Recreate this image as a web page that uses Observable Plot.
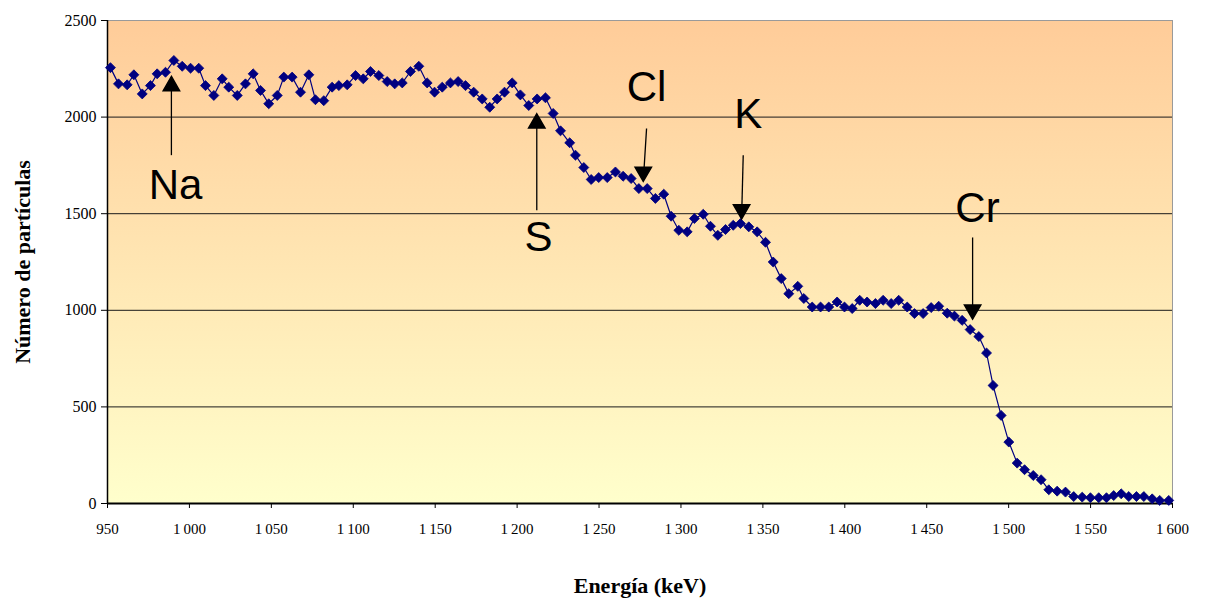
<!DOCTYPE html>
<html>
<head>
<meta charset="utf-8">
<script src="https://cdn.jsdelivr.net/npm/d3@7"></script>
<script src="https://cdn.jsdelivr.net/npm/@observablehq/plot@0.6"></script>
<style>
  html, body { margin: 0; padding: 0; background: #ffffff; }
  #chart { width: 1206px; height: 602px; }
</style>
</head>
<body>
<div id="chart"></div>
<script>
// Spectrum: energy (keV) and particle counts
const energy = [
  951.8, 956.7, 962.0, 966.1, 971.2, 976.2, 980.3, 985.4, 990.5, 995.6,
  1000.7, 1005.7, 1009.8, 1014.9, 1020.0, 1024.0, 1029.2, 1034.2, 1038.9, 1043.4,
  1048.4, 1053.6, 1057.6, 1062.7, 1067.8, 1072.9, 1076.9, 1082.0, 1087.1, 1091.2,
  1096.3, 1101.4, 1106.1, 1110.5, 1115.6, 1120.7, 1125.3, 1129.9, 1134.9, 1140.0,
  1145.1, 1149.6, 1154.3, 1159.3, 1164.0, 1168.5, 1173.5, 1178.7, 1183.3, 1187.8,
  1192.3, 1197.0, 1202.0, 1207.1, 1212.2, 1217.3, 1222.0, 1226.5, 1232.1, 1235.6,
  1240.7, 1245.2, 1249.8, 1255.0, 1260.0, 1264.7, 1269.6, 1274.3, 1279.4, 1284.4,
  1289.5, 1294.0, 1298.7, 1303.8, 1308.2, 1313.6, 1318.0, 1322.5, 1327.2, 1331.9,
  1336.3, 1341.4, 1346.5, 1351.6, 1356.3, 1361.2, 1365.8, 1371.3, 1375.0, 1380.1,
  1385.2, 1390.2, 1395.3, 1399.8, 1404.5, 1409.1, 1413.6, 1418.7, 1423.4, 1428.3,
  1432.9, 1438.1, 1442.5, 1447.8, 1452.7, 1457.3, 1462.5, 1466.9, 1471.6, 1476.5,
  1481.8, 1486.5, 1490.5, 1495.4, 1500.1, 1505.2, 1509.7, 1515.0, 1519.8, 1524.5,
  1529.6, 1534.7, 1539.7, 1544.9, 1549.9, 1555.0, 1559.7, 1564.1, 1568.7, 1573.3,
  1578.0, 1582.5, 1587.6, 1592.2, 1597.7
];
const counts = [
  2256, 2172, 2167, 2219, 2120, 2163, 2224, 2232, 2293, 2263,
  2253, 2253, 2163, 2112, 2198, 2155, 2112, 2172, 2224, 2138,
  2069, 2112, 2207, 2207, 2129, 2219, 2090, 2085, 2155, 2163,
  2167, 2215, 2198, 2236, 2215, 2184, 2172, 2177, 2236, 2263,
  2177, 2129, 2155, 2177, 2184, 2163, 2129, 2094, 2051, 2094,
  2129, 2177, 2115, 2060, 2094, 2100, 2019, 1929, 1867, 1803,
  1739, 1677, 1687, 1687, 1716, 1694, 1682, 1630, 1630, 1579,
  1601, 1487, 1414, 1406, 1475, 1497, 1435, 1388, 1418, 1440,
  1449, 1432, 1406, 1352, 1250, 1164, 1086, 1124, 1061, 1017,
  1017, 1017, 1043, 1017, 1009, 1052, 1043, 1035, 1052, 1035,
  1052, 1017, 983, 983, 1014, 1021, 985, 970, 948, 900,
  864, 779, 611, 456, 318, 209, 175, 145, 123, 71,
  64, 59, 36, 33, 30, 30, 30, 41, 50, 36,
  36, 36, 24, 16, 16
];

// Axis ticks and horizontal grid levels
const xTicks = [950, 1000, 1050, 1100, 1150, 1200, 1250, 1300, 1350, 1400, 1450, 1500, 1550, 1600];
const yTicks = [0, 500, 1000, 1500, 2000, 2500];
const gridLevels = [500, 1000, 1500, 2000];

// Element annotations: label position, arrow tail and arrow tip (data units)
const peakNames = ["Na", "S", "Cl", "K", "Cr"];
const labelX = [991.5, 1213, 1279, 1341, 1481];
const labelY = [1648, 1378, 2155, 2015, 1528];
const tailX = [989, 1212, 1279, 1338, 1478];
const tailY = [1803, 1518, 1941, 1803, 1377];
const tipX = [989, 1212, 1277, 1337, 1478];
const tipY = [2208, 2015, 1670, 1475, 957];

const xTitle = "Energía (keV)";
const yTitle = "Número de partículas";

const spectrum = energy.map((e, i) => ({energy: e, count: counts[i]}));
const peaks = peakNames.map((name, i) => ({
  name, lx: labelX[i], ly: labelY[i],
  x1: tailX[i], y1: tailY[i], x2: tipX[i], y2: tipY[i],
  up: tipY[i] > tailY[i]
}));

// thousands separated by a thin space: 1 000, 1 050, ...
const fr = d3.formatLocale({decimal: ",", thousands: "\u2009", grouping: [3]});
const fmtX = fr.format(",d");
const fmtY = d3.format("d");

const serif = "'Liberation Serif', 'Times New Roman', serif";
const sans = "'Liberation Sans', Arial, sans-serif";
const navy = "#000080";

const chart = Plot.plot({
  width: 1206,
  height: 602,
  marginLeft: 107,
  marginRight: 34,
  marginTop: 20,
  marginBottom: 99,
  style: {fontFamily: serif, background: "transparent"},
  x: {domain: [950, 1600]},
  y: {domain: [0, 2500]},
  marks: [
    Plot.frame({fill: "url(#plotBg)", stroke: "#9a9a9a"}),
    Plot.gridY(gridLevels, {stroke: "#1a1a1a", strokeOpacity: 1, strokeWidth: 1}),
    Plot.axisY(yTicks, {tickSize: 6, tickPadding: 5, fontSize: 16, label: null, tickFormat: fmtY, stroke: "#000"}),
    Plot.axisX(xTicks, {tickSize: 5, tickPadding: 15, fontSize: 15, label: null, tickFormat: fmtX, stroke: "#000"}),
    Plot.ruleX([950], {stroke: "#000", strokeWidth: 1.5}),
    Plot.ruleY([0], {stroke: "#000", strokeWidth: 2}),
    Plot.line(spectrum, {x: "energy", y: "count", stroke: navy, strokeWidth: 1.2}),
    Plot.dot(spectrum, {x: "energy", y: "count", symbol: "diamond2", r: 4.5, fill: navy, stroke: navy, strokeWidth: 0.8}),
    // arrows pointing at each element
    Plot.link(peaks, {x1: "x1", y1: "y1", x2: "x2", y2: "y2", stroke: "#000", strokeWidth: 1.3}),
    Plot.dot(peaks, {filter: d => d.up, x: "x2", y: "y2", symbol: "triangle2", r: 7.8, fill: "#000", stroke: "#000", dy: 9}),
    Plot.dot(peaks, {filter: d => !d.up, x: "x2", y: "y2", symbol: "triangle2", r: 7.8, fill: "#000", stroke: "#000", rotate: 180, dy: -9}),
    Plot.text(peaks, {x: "lx", y: "ly", text: "name", fontSize: 42, fontFamily: sans, fill: "#000", textAnchor: "middle", lineAnchor: "middle"}),
    // axis titles
    Plot.text([xTitle], {text: d => d, frameAnchor: "bottom", dy: 82, fontSize: 22, fontWeight: "bold", fontFamily: serif, fill: "#000", textAnchor: "middle", lineAnchor: "middle"}),
    Plot.text([yTitle], {text: d => d, frameAnchor: "left", dx: -85, rotate: -90, fontSize: 22, fontWeight: "bold", fontFamily: serif, fill: "#000", textAnchor: "middle", lineAnchor: "middle"})
  ]
});

const svg = chart.tagName.toLowerCase() === "svg" ? chart : chart.querySelector("svg");
const grad = d3.select(svg).insert("defs", ":first-child")
  .append("linearGradient").attr("id", "plotBg")
  .attr("x1", 0).attr("y1", 0).attr("x2", 0).attr("y2", 1);
grad.append("stop").attr("offset", "0%").attr("stop-color", "#FFCC99");
grad.append("stop").attr("offset", "100%").attr("stop-color", "#FFFFCC");

document.getElementById("chart").appendChild(chart);
</script>
</body>
</html>
